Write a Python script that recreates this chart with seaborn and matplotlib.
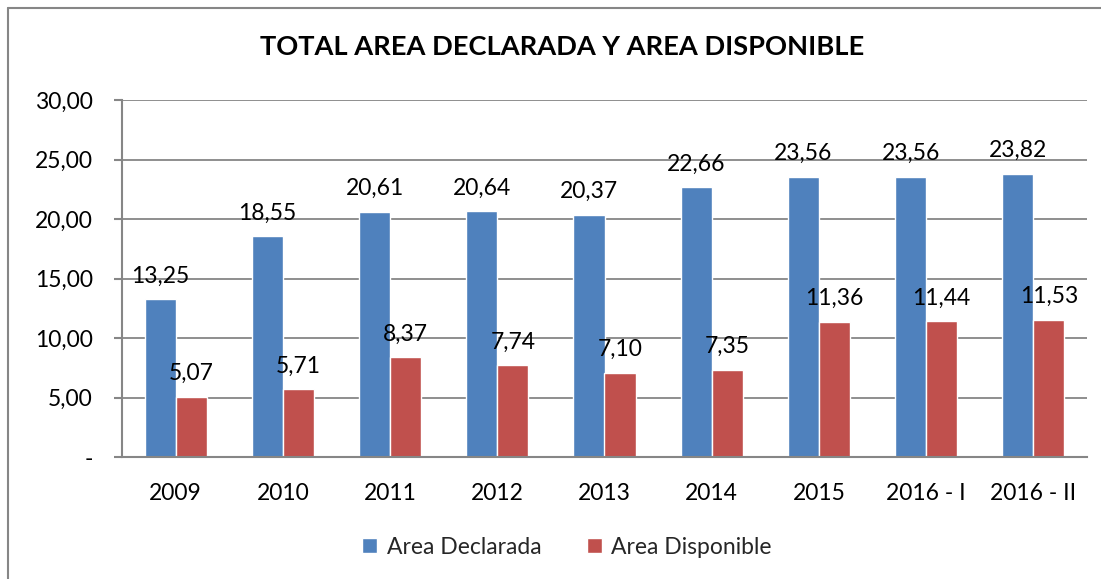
import matplotlib
matplotlib.use("Agg")
import matplotlib.pyplot as plt
import seaborn as sns
import pandas as pd
from matplotlib.lines import Line2D
from matplotlib.patches import Patch

# =============================================
# DATA
# =============================================
periodos = ["2009", "2010", "2011", "2012", "2013", "2014", "2015", "2016 - I", "2016 - II"]
area_declarada = [13.25, 18.55, 20.61, 20.64, 20.37, 22.66, 23.56, 23.56, 23.82]
area_disponible = [5.07, 5.71, 8.37, 7.74, 7.10, 7.35, 11.36, 11.44, 11.53]
series = ["Area Declarada", "Area Disponible"]
y_ticks = [0, 5, 10, 15, 20, 25, 30]

colores = {"Area Declarada": "#4F81BD", "Area Disponible": "#C0504D"}
gris = "#868686"

df = pd.DataFrame({
    "periodo": periodos * 2,
    "serie": [series[0]] * len(periodos) + [series[1]] * len(periodos),
    "valor": area_declarada + area_disponible,
})


def fmt(v):
    return "-" if v == 0 else f"{v:.2f}".replace(".", ",")


# =============================================
# PLOT
# =============================================
sns.set_theme(style="white")
plt.rcParams["font.family"] = ["Lato", "DejaVu Sans"]
fs = 16.5

fig = plt.figure(figsize=(11.01, 5.79), dpi=100)
ax = fig.add_axes([122 / 1101, 122 / 579, (1087 - 122) / 1101, (457 - 100) / 579])

sns.barplot(data=df, x="periodo", y="valor", hue="serie", order=periodos,
            hue_order=series, palette=colores, width=0.58, saturation=1,
            legend=False, ax=ax)

for cont in ax.containers:
    ax.bar_label(cont, labels=[fmt(b.get_height()) for b in cont],
                 padding=9, fontsize=fs, color="black")

ax.set_ylim(0, 30)
ax.set_xlim(-0.5, len(periodos) - 0.5)
ax.set_yticks(y_ticks)
ax.set_yticklabels([fmt(t) for t in y_ticks])
ax.set_xlabel("")
ax.set_ylabel("")

ax.yaxis.grid(True, color=gris, linewidth=1.3)
ax.set_axisbelow(True)
for s in ["top", "right"]:
    ax.spines[s].set_visible(False)
for s in ["left", "bottom"]:
    ax.spines[s].set_color(gris)
    ax.spines[s].set_linewidth(1.5)

ax.set_xticks([i - 0.5 for i in range(len(periodos) + 1)], minor=True)
ax.tick_params(axis="x", which="major", length=0, pad=19, labelsize=fs, labelcolor="black")
ax.tick_params(axis="x", which="minor", length=6, width=1.5, color=gris, direction="out")
ax.tick_params(axis="y", length=6, width=1.5, color=gris, pad=15, labelsize=fs,
               labelcolor="black", left=True)

fig.text(0.511, 1 - 47 / 579, "TOTAL AREA DECLARADA Y AREA DISPONIBLE",
         ha="center", va="center", fontsize=19.6, fontweight="bold", color="black")

handles = [Patch(facecolor=colores[s], label=s) for s in series]
fig.legend(handles=handles, loc="center", bbox_to_anchor=(0.515, 1 - 547 / 579),
           ncol=2, frameon=False, fontsize=fs, handlelength=0.65, handleheight=0.65,
           handletextpad=0.4, columnspacing=2.0)

# marco del grafico (solo visible a la izquierda y arriba)
fig.add_artist(Line2D([8 / 1101, 8 / 1101], [0, 1 - 8 / 579], color=gris, linewidth=1.5))
fig.add_artist(Line2D([8 / 1101, 1], [1 - 8 / 579, 1 - 8 / 579], color=gris, linewidth=1.5))

fig.savefig("out.png", dpi=100)
